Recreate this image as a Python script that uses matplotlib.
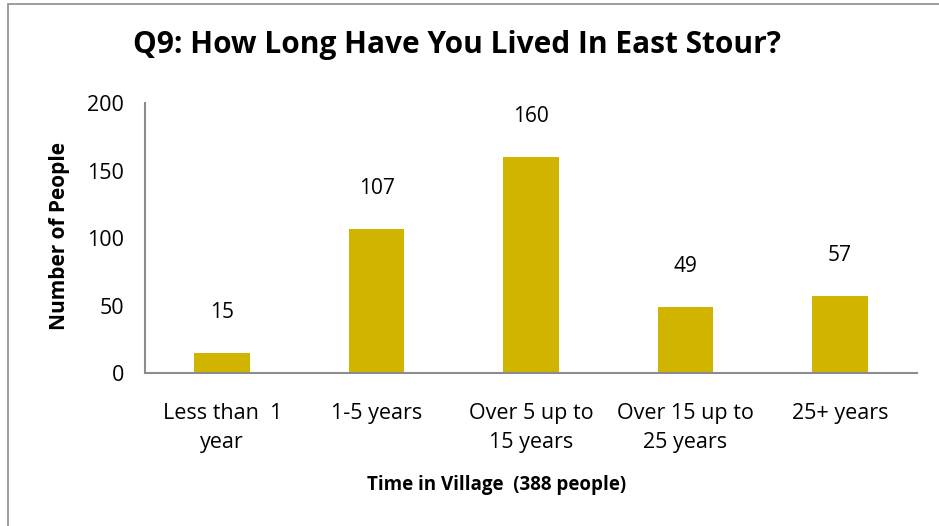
import matplotlib
matplotlib.use('Agg')
import matplotlib.pyplot as plt
from matplotlib.patches import Rectangle

# Data
categories = ['Less than  1\nyear', '1-5 years', 'Over 5 up to\n15 years', 'Over 15 up to\n25 years', '25+ years']
counts = [15, 107, 160, 49, 57]
yticks = [0, 50, 100, 150, 200]

plt.rcParams['font.family'] = ['Open Sans', 'DejaVu Sans']

fig = plt.figure(figsize=(9.39, 5.26), dpi=100)
fig.patches.append(Rectangle((8 / 939, -0.1), 1.2, 1.1 - 4 / 526, transform=fig.transFigure,
                             fill=False, edgecolor='#8c8c8c', linewidth=1.2))

ax = fig.add_axes([145 / 939, 1 - 373 / 526, 772 / 939, 270 / 526])
x = range(len(categories))
bars = ax.bar(x, counts, width=0.36, color='#D0B400')

for xi, v in zip(x, counts):
    ax.annotate(str(v), (xi, v), xytext=(0, 29), textcoords='offset points',
                ha='center', va='center', fontsize=15)

ax.set_xlim(-0.5, len(categories) - 0.5)
ax.set_ylim(0, 200)
ax.set_yticks(yticks)
ax.set_xticks(list(x))
ax.set_xticklabels(categories, fontsize=15.5, linespacing=1.5)
ax.tick_params(axis='both', length=0)
ax.tick_params(axis='y', labelsize=15.5, pad=15)
ax.tick_params(axis='x', pad=21.5)

for s in ['top', 'right']:
    ax.spines[s].set_visible(False)
for s in ['left', 'bottom']:
    ax.spines[s].set_color('#8c8c8c')
    ax.spines[s].set_linewidth(1.5)

ax.set_xlabel('Time in Village  (388 people)', fontsize=13.5, fontweight='bold')
ax.xaxis.set_label_coords((497 - 145) / 772, -(485 - 373) / 270)
ax.xaxis.label.set_va('center')
ax.set_ylabel('Number of People', fontsize=15, fontweight='bold')
ax.yaxis.set_label_coords(-(145 - 59) / 772, (373 - 236) / 270)
ax.yaxis.label.set_va('center')

fig.text(457 / 939, 1 - 45 / 526, 'Q9: How Long Have You Lived In East Stour?',
         ha='center', va='center', fontsize=21.5, fontweight='bold')

fig.savefig('out.png', dpi=100)
